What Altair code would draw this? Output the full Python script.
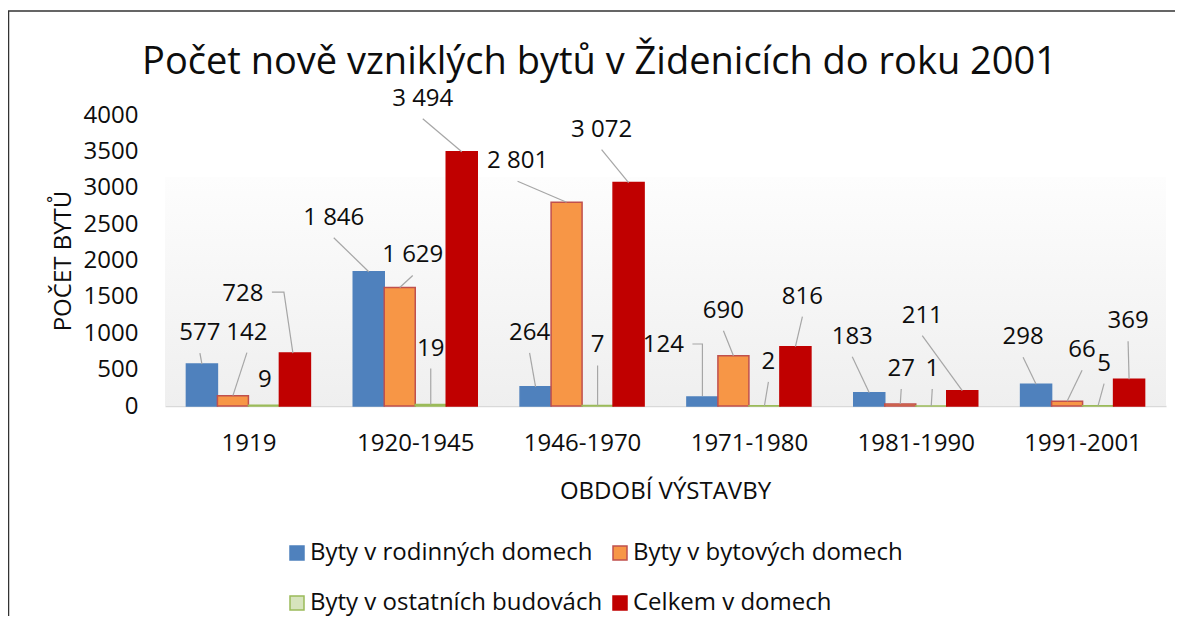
import json
import altair as alt
import pandas as pd

# ---------------- data ----------------
categories = ["1919", "1920-1945", "1946-1970", "1971-1980", "1981-1990", "1991-2001"]
series_names = ["Byty v rodinných domech", "Byty v bytových domech",
                "Byty v ostatních budovách", "Celkem v domech"]
rodinne = [577, 1846, 264, 124, 183, 298]
bytove = [142, 1629, 2801, 690, 27, 66]
ostatni = [9, 19, 7, 2, 1, 5]
celkem = [728, 3494, 3072, 816, 211, 369]
y_ticks = [0, 500, 1000, 1500, 2000, 2500, 3000, 3500, 4000]

# ---------------- styles / layout ----------------
fills = ["#4F81BD", "#F79646", "#D7E4BD", "#C00000"]
strokes = ["#4F81BD", "#C0504D", "#9BBB59", "#C00000"]
FONT = "Open Sans"
TXT = "#0d0d0d"

W, H = 1001, 291
YMAX = 4000
PXU = W / 6          # pixels per category unit
PYU = H / YMAX       # pixels per flat count
BAR_PX = 31

# data-label offsets in pixels from the top centre of each bar
label_dx = [[-2, -35, -6, -39, -17, -13],
            [14, 13, -49, -10, 1, 15],
            [1, 0, 0, 4, 1, 6],
            [-52, -39, -27, 7, -40, -1]]
label_dy = [[-31, -54, -54, -52, -56, -47],
            [-63, -32, -41, -45, -35, -51],
            [-25, -56, -60, -44, -37, -42],
            [-59, -53, -53, -50, -75, -58]]
elbow_leaders = {(3, 0): [(-23, -61), (-11, -61), (-2, 0)],
                 (0, 3): [(-10, -53), (0, -53), (0, -1)]}
no_leader = {(2, 0)}

all_series = [rodinne, bytove, ostatni, celkem]
rows, lines = [], []
for s, vals in enumerate(all_series):
    for i, v in enumerate(vals):
        c = i + (s - 1.5) * BAR_PX / PXU
        rows.append(dict(series=series_names[s], cat=i, value=v,
                         x0=c - BAR_PX / 2 / PXU, x1=c + BAR_PX / 2 / PXU,
                         lx=c + label_dx[s][i] / PXU,
                         ly=v - label_dy[s][i] / PYU,
                         label=f"{v:,}".replace(",", " ")))
        if (s, i) in no_leader:
            continue
        pts = elbow_leaders.get((s, i), [(label_dx[s][i], label_dy[s][i] + 20), (0, 0)])
        for k, (px, py) in enumerate(pts):
            lines.append(dict(lid=f"{s}-{i}", order=k, x=c + px / PXU, y=v - py / PYU))

bars_df = pd.DataFrame(rows)
lines_df = pd.DataFrame(lines)

label_expr = json.dumps(categories) + "[datum.value]"
xscale = alt.Scale(domain=[-0.5, 5.5], nice=False, zero=False)
yscale = alt.Scale(domain=[0, YMAX], nice=False)

x_axis = alt.Axis(values=list(range(6)), labelExpr=label_expr, grid=False, ticks=False,
                  tickSize=0, domainColor="#d9d9d9", domainWidth=1.5,
                  labelFont=FONT, labelFontSize=24, labelColor=TXT, labelPadding=44,
                  labelBaseline="alphabetic", labelFlush=False, labelOverlap=False,
                  title="OBDOBÍ VÝSTAVBY", titleFont=FONT, titleFontSize=24,
                  titleFontWeight="normal", titleColor=TXT, titleX=500, titleY=92,
                  titleAlign="center", titleBaseline="alphabetic")
y_axis = alt.Axis(values=y_ticks, format="d", grid=False, ticks=False, tickSize=0,
                  domain=False, labelFont=FONT, labelFontSize=24, labelColor=TXT,
                  labelPadding=27, labelBaseline="middle",
                  title="POČET BYTŮ", titleFont=FONT, titleFontSize=24,
                  titleFontWeight="normal", titleColor=TXT, titleAngle=270,
                  titleX=-95, titleY=145.5, titleAlign="center",
                  titleBaseline="alphabetic")

one = alt.Data(values=[{"k": 1}])

frame = alt.Chart(one).mark_rect(fillOpacity=0, stroke="#333333", strokeWidth=1.5).encode(
    x=alt.value(-156.5), x2=alt.value(3000), y=alt.value(-104), y2=alt.value(3000))

grad = alt.Chart(one).mark_rect(
    fill=alt.Gradient(gradient="linear", x1=0, x2=0, y1=0, y2=1,
                      stops=[alt.GradientStop(color="#fdfdfd", offset=0),
                             alt.GradientStop(color="#efefef", offset=1)])
).encode(x=alt.value(0), x2=alt.value(W), y=alt.value(62), y2=alt.value(H))

bars = alt.Chart(bars_df).mark_bar(strokeWidth=1.5).encode(
    x=alt.X("x0:Q", scale=xscale, axis=x_axis),
    x2="x1:Q",
    y=alt.Y("value:Q", scale=yscale, axis=y_axis),
    y2=alt.datum(0),
    color=alt.Color("series:N", title=None,
                    scale=alt.Scale(domain=series_names, range=fills),
                    legend=alt.Legend(orient="none", legendX=120, legendY=426,
                                      columns=2, direction="horizontal",
                                      symbolType="square", symbolSize=196,
                                      symbolStrokeWidth=1.5, labelFont=FONT,
                                      labelFontSize=24, labelColor=TXT,
                                      labelOffset=1, columnPadding=5,
                                      rowPadding=26, padding=0, labelLimit=600)),
    stroke=alt.Stroke("series:N", title=None,
                      scale=alt.Scale(domain=series_names, range=strokes)),
)

leaders = alt.Chart(lines_df).mark_line(color="#a6a6a6", strokeWidth=1.2).encode(
    x=alt.X("x:Q", scale=xscale, axis=x_axis),
    y=alt.Y("y:Q", scale=yscale, axis=y_axis),
    detail="lid:N",
    order="order:Q",
)

labels = alt.Chart(bars_df).mark_text(font=FONT, fontSize=24, color=TXT,
                                      align="center", baseline="middle").encode(
    x=alt.X("lx:Q", scale=xscale, axis=x_axis),
    y=alt.Y("ly:Q", scale=yscale, axis=y_axis),
    text="label:N",
)

chart = alt.layer(frame, grad, bars, leaders, labels).properties(
    width=W, height=H,
    title=alt.Title("Počet nově vzniklých bytů v Židenicích do roku 2001",
                    font=FONT, fontSize=38, fontWeight="normal", color=TXT,
                    anchor="middle", frame="group", dx=-66, dy=106,
                    baseline="alphabetic"),
    padding={"left": 157, "top": 107, "right": 9, "bottom": 210},
    autosize=alt.AutoSizeParams(type="none"),
    background="white",
).configure_view(stroke=None)

chart.save("out.html", embed_options={"renderer": "svg", "actions": False})
